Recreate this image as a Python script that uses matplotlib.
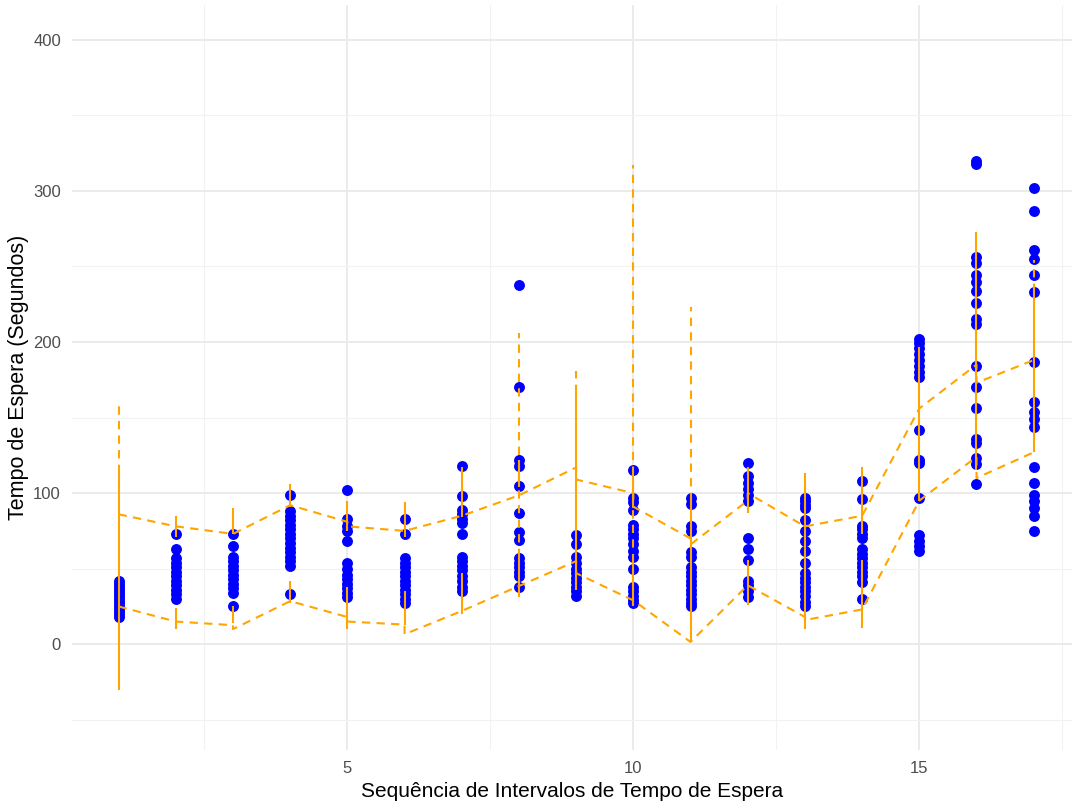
import numpy as np
import matplotlib.pyplot as plt
from matplotlib.ticker import MultipleLocator

# Sequência (x) e tempos de espera observados em cada intervalo
seq = np.arange(1, 18)
tempos = [
    [42, 40, 38, 36, 34, 32, 30, 28, 26, 24, 22, 20, 18],
    [73, 63, 57, 54, 51, 48, 45, 42, 39, 36, 33, 30],
    [73, 65, 58, 55, 52, 49, 46, 43, 40, 37, 34, 25],
    [99, 88, 85, 82, 79, 76, 73, 70, 67, 64, 61, 58, 55, 52, 33],
    [102, 83, 78, 75, 68, 54, 50, 46, 43, 40, 37, 34, 31],
    [83, 73, 57, 54, 51, 48, 45, 42, 39, 36, 33, 30, 27],
    [118, 98, 89, 86, 83, 80, 73, 58, 55, 52, 49, 45, 42, 38, 35],
    [238, 170, 122, 118, 105, 87, 74, 69, 57, 54, 51, 48, 45, 38],
    [72, 66, 58, 54, 50, 47, 44, 41, 38, 35, 32],
    [115, 97, 94, 89, 79, 76, 73, 70, 66, 62, 58, 50, 38, 35, 32, 29, 27],
    [97, 93, 78, 75, 61, 58, 51, 48, 45, 42, 39, 36, 33, 30, 27, 25],
    [120, 111, 107, 103, 99, 95, 70, 63, 56, 42, 39, 35, 31],
    [97, 95, 92, 90, 82, 75, 68, 62, 54, 47, 44, 41, 38, 35, 32, 28, 25],
    [108, 96, 78, 76, 73, 70, 63, 60, 57, 54, 51, 48, 45, 41, 30],
    [202, 199, 196, 192, 188, 184, 180, 177, 142, 122, 120, 97, 72, 68, 65, 62],
    [320, 318, 256, 252, 244, 240, 234, 226, 215, 212, 184, 170, 156, 136, 133, 123, 119, 106],
    [302, 287, 261, 255, 244, 233, 187, 160, 154, 149, 144, 117, 107, 99, 95, 90, 85, 75],
]

# limites superior / inferior ligados entre intervalos (entrada e saída em cada x)
lsc_in = [86, 78, 73, 92, 81, 75, 85, 98.5, 117, 100, 70, 95, 78, 85, 156, 185, 188]
lsc_out = [86, 78, 73, 92, 78, 75, 85, 98.5, 109, 91, 66, 100, 78, 85, 156, 173, 188]
lic_in = [25, 15, 12.6, 28.5, 18, 13, 22, 38.5, 55, 29, 1.5, 39, 18, 23, 95, 124, 127]
lic_out = [25, 15, 10, 28.5, 15, 6.6, 22, 38.5, 47, 29, 1.5, 39, 16, 23, 95, 110, 127]

# segmentos verticais contínuos (parte de cima e de baixo) e tracejados
sup_lo = [25, 71, 73, 91, 75, 71, 84, 104, 36, 90, 62, 87, 50, 73, 140, 190, 180]
sup_hi = [113, 85, 90, 106, 95, 94, 117, 122, 166, 115, 98, 117, 108, 117, 197, 273, 233]
inf_lo = [-30, 10, 14, 27, 10, 12.6, 20, 31, 36, 25, 2, 26, 10, 11, 95, 115, 127]
inf_hi = [25, 24, 25, 42, 38, 35, 47, 58, 55, 60, 62, 56, 50, 56, 140, 190, 180]
tr_lo = [113, np.nan, np.nan, np.nan, np.nan, np.nan, np.nan, 58, 166, 25, 95, np.nan, 108, np.nan, np.nan, np.nan, 233]
tr_hi = [159, np.nan, np.nan, np.nan, np.nan, np.nan, np.nan, 206, 181, 317, 223, np.nan, 113, np.nan, np.nan, np.nan, 254]

plt.rcParams['font.family'] = ['Liberation Sans', 'DejaVu Sans']

fig = plt.figure(figsize=(10.72, 8.07), dpi=100)
ax = fig.add_axes([72 / 1072, 57 / 807, 1000 / 1072, 745 / 807])

laranja = '#FFA500'

# pontos
for x, vals in zip(seq, tempos):
    ax.scatter(np.full(len(vals), x), vals, s=62, color='#0000FF', linewidths=0, zorder=3)

# linhas de controle tracejadas
ux = np.repeat(seq, 2)
uy = np.column_stack([lsc_in, lsc_out]).ravel()
ly = np.column_stack([lic_in, lic_out]).ravel()
ax.plot(ux, uy, color=laranja, lw=1.5, ls=(0, (4, 3)), zorder=4)
ax.plot(ux, ly, color=laranja, lw=1.5, ls=(0, (4, 3)), zorder=4)

# segmentos verticais
ax.vlines(seq, sup_lo, sup_hi, color=laranja, lw=1.5, zorder=4)
ax.vlines(seq, inf_lo, inf_hi, color=laranja, lw=1.5, zorder=4)
ax.vlines(seq, tr_lo, tr_hi, color=laranja, lw=1.5, linestyles=(0, (4, 3)), zorder=4)

ax.set_xlim(0.185, 17.67)
ax.set_ylim(-70, 423)
ax.xaxis.set_major_locator(MultipleLocator(5))
ax.xaxis.set_minor_locator(MultipleLocator(2.5))
ax.yaxis.set_major_locator(MultipleLocator(100))
ax.yaxis.set_minor_locator(MultipleLocator(50))
ax.grid(which='major', color='#EBEBEB', lw=1.4)
ax.grid(which='minor', color='#F2F2F2', lw=0.8)
ax.set_axisbelow(True)
for s in ax.spines.values():
    s.set_visible(False)
ax.tick_params(which='both', length=0, labelsize=12, labelcolor='#4D4D4D', pad=8)

ax.set_xlabel('Sequência de Intervalos de Tempo de Espera', fontsize=15, labelpad=4)
ax.set_ylabel('Tempo de Espera (Segundos)', fontsize=15.5, labelpad=3)

fig.savefig('out.png', dpi=100)
